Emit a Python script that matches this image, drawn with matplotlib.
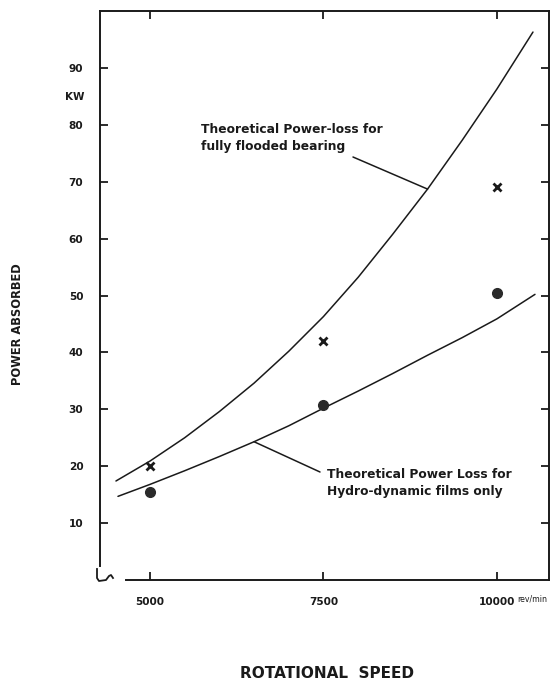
import matplotlib
matplotlib.use("Agg")
import matplotlib.pyplot as plt

# ---- data ----
speed_ticks = [5000, 7500, 10000]
speed_tick_labels = ["5000", "7500", "10000"]
power_ticks = [10, 20, 30, 40, 50, 60, 70, 80, 90]

# theoretical curve: fully flooded bearing
flooded_x = [4510, 5000, 5500, 6000, 6500, 7000, 7500, 8000, 8500, 9000, 9500, 10000, 10519]
flooded_y = [17.4, 20.9, 25.0, 29.6, 34.6, 40.2, 46.3, 53.2, 60.8, 68.7, 77.3, 86.3, 96.3]

# theoretical curve: hydro-dynamic films only
hydro_x = [4539, 5000, 5500, 6000, 6500, 7000, 7500, 8000, 8500, 9000, 9500, 10000, 10548]
hydro_y = [14.7, 16.8, 19.2, 21.7, 24.3, 27.1, 30.2, 33.2, 36.3, 39.5, 42.6, 45.9, 50.2]

# measured points
meas_speed = [5000, 7500, 10000]
meas_x_power = [20.0, 42.0, 69.0]     # "x" markers
meas_dot_power = [15.4, 30.7, 50.5]   # filled dots

W, H = 550, 683
fig = plt.figure(figsize=(5.5, 6.83), dpi=100)
ax = fig.add_axes([100 / W, 1 - 580 / H, 449 / W, 569 / H])

FONT = "DejaVu Sans"
ink = "#1a1a1a"

ax.plot(flooded_x, flooded_y, color=ink, lw=1.1, solid_capstyle="round")
ax.plot(hydro_x, hydro_y, color=ink, lw=1.1, solid_capstyle="round")
ax.plot(meas_speed, meas_x_power, linestyle="none", marker="x",
        markersize=6, mew=2.0, color=ink)
ax.plot(meas_speed, meas_dot_power, linestyle="none", marker="o",
        markersize=7, color="#2a2a2a")

ax.set_xlim(4280, 10750)
ax.set_ylim(0, 100)

ax.set_xticks(speed_ticks)
ax.set_xticklabels(speed_tick_labels)
ax.set_yticks(power_ticks)

ax.tick_params(axis="both", direction="in", length=6, width=1.3,
               top=True, right=True, colors=ink)
ax.tick_params(axis="y", pad=12, labelsize=7.6)
ax.tick_params(axis="x", pad=12, labelsize=7.6)
for lab in ax.get_xticklabels() + ax.get_yticklabels():
    lab.set_fontfamily(FONT)
    lab.set_fontweight("bold")

for s in ax.spines.values():
    s.set_linewidth(1.4)
    s.set_color(ink)
ax.spines["bottom"].set_bounds(4660, 10750)
ax.spines["left"].set_bounds(2.5, 100)

# broken-axis squiggle at the bottom-left corner (figure pixels)
fig.add_artist(plt.Line2D(
    [97 / W, 97 / W, 99 / W, 106 / W, 109 / W, 111 / W, 113 / W],
    [1 - 569 / H, 1 - 578 / H, 1 - 581 / H, 1 - 580 / H, 1 - 576 / H, 1 - 575 / H, 1 - 578 / H],
    color=ink, lw=1.3))

# texts
fig.text(517 / W, 1 - 599 / H, "rev/min", fontsize=5.6, fontfamily=FONT,
         color=ink, ha="left", va="center")
fig.text(75 / W, 1 - 97 / H, "KW", fontsize=7.5, fontfamily=FONT,
         fontweight="bold", color=ink, ha="center", va="center")
fig.text(18 / W, 1 - 324 / H, "POWER ABSORBED", fontsize=8.3, fontfamily=FONT,
         fontweight="bold", color=ink, rotation=90, ha="center", va="center")
fig.text(327 / W, 1 - 674 / H, "ROTATIONAL  SPEED", fontsize=11, fontfamily=FONT,
         fontweight="bold", color=ink, ha="center", va="center")

fig.text(201 / W, 1 - 123 / H, "Theoretical Power-loss for\nfully flooded bearing",
         fontsize=8.8, fontfamily=FONT, fontweight="bold", color=ink,
         ha="left", va="top", linespacing=1.4)
fig.text(327 / W, 1 - 468 / H, "Theoretical Power Loss for\nHydro-dynamic films only",
         fontsize=8.8, fontfamily=FONT, fontweight="bold", color=ink,
         ha="left", va="top", linespacing=1.4)

# leader lines
ax.annotate("", xy=(flooded_x[9], flooded_y[9]), xytext=(353, H - 157),
            textcoords="figure pixels",
            arrowprops=dict(arrowstyle="-", lw=1.1, color=ink, shrinkA=0, shrinkB=0))
ax.annotate("", xy=(hydro_x[4], hydro_y[4]), xytext=(320, H - 472),
            textcoords="figure pixels",
            arrowprops=dict(arrowstyle="-", lw=1.1, color=ink, shrinkA=0, shrinkB=0))

fig.savefig("out.png", dpi=100, facecolor="white")
